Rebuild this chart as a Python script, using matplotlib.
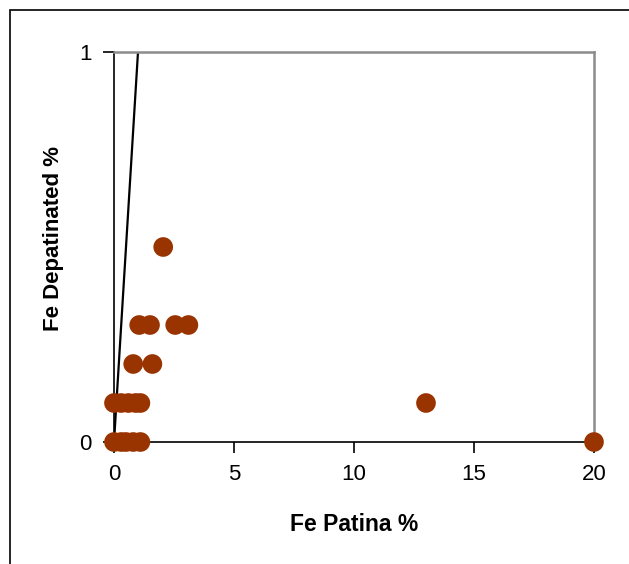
import numpy as np
import matplotlib.pyplot as plt
from matplotlib.patches import Rectangle

plt.rcParams['font.family'] = ['Liberation Sans', 'DejaVu Sans']

# Fe patina % vs Fe depatinated %
fe_patina = [0.0, 0.3, 0.5, 0.8, 1.1,
             0.0, 0.3, 0.6, 0.9, 1.1,
             0.8, 1.6,
             1.05, 1.5, 2.55, 3.1,
             2.05,
             13.0, 20.0]
fe_depatinated = [0.0, 0.0, 0.0, 0.0, 0.0,
                  0.1, 0.1, 0.1, 0.1, 0.1,
                  0.2, 0.2,
                  0.3, 0.3, 0.3, 0.3,
                  0.5,
                  0.1, 0.0]
x_ticks = [0, 5, 10, 15, 20]
y_ticks = [0, 1]

marker_color = '#993300'
grey = '#8c8c8c'

fig = plt.figure(figsize=(6.29, 5.64), dpi=100)
ax = fig.add_axes([114/629, 122/564, 480/629, 390/564])

# outer chart frame (cut off at right and bottom)
fig.patches.append(Rectangle((10/629, -0.1), 1.0, (554/564) + 0.1,
                             transform=fig.transFigure, fill=False,
                             edgecolor='black', linewidth=1.2))

# 1:1 line
ax.plot([0, 1], [0, 1], color='black', linewidth=1.6, zorder=2)

ax.scatter(fe_patina, fe_depatinated, s=200, c=marker_color,
           edgecolors='none', zorder=3, clip_on=False)

ax.set_xlim(0, 20)
ax.set_ylim(0, 1)
ax.set_xticks(x_ticks)
ax.set_yticks(y_ticks)

for side in ['top', 'right']:
    ax.spines[side].set_color(grey)
    ax.spines[side].set_linewidth(1.8)
for side in ['left', 'bottom']:
    ax.spines[side].set_color('black')
    ax.spines[side].set_linewidth(1.2)

ax.tick_params(axis='both', direction='out', length=8, width=1.2,
               labelsize=16)
ax.tick_params(axis='x', pad=8)
ax.tick_params(axis='y', pad=8)

ax.set_xlabel('Fe Patina %', fontsize=16.5, fontweight='bold', labelpad=20)
ax.set_ylabel('Fe Depatinated %', fontsize=16, fontweight='bold')
ax.yaxis.set_label_coords(-0.125, 0.523)
ax.yaxis.label.set_va('center')

fig.savefig('out.png', dpi=100)
